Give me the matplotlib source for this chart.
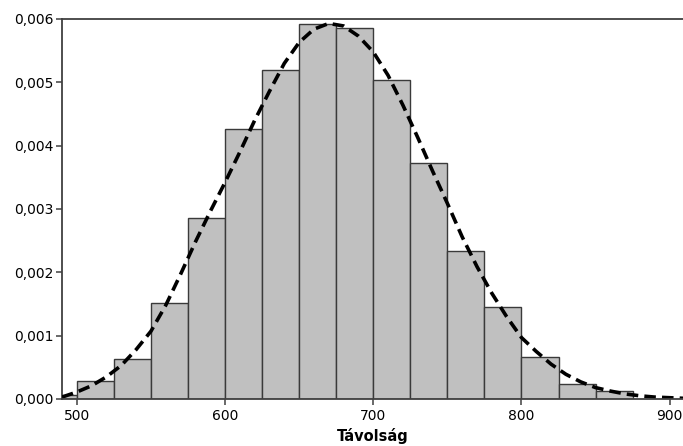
import matplotlib
matplotlib.use("Agg")
import matplotlib.pyplot as plt
from matplotlib.ticker import FuncFormatter

# histogram: bin left edges (width 25) and density heights
bin_left = [475, 500, 525, 550, 575, 600, 625, 650, 675, 700, 725, 750, 775, 800, 825, 850]
density = [0.00007, 0.00029, 0.00063, 0.00151, 0.00285, 0.00427, 0.00519, 0.00592,
           0.00585, 0.00503, 0.00373, 0.00234, 0.00145, 0.00067, 0.00023, 0.00013]
bin_width = 25

# fitted curve
curve_x = [490, 500, 510, 520, 530, 540, 550, 560, 570, 580, 590, 600, 610, 620, 630, 640,
           650, 660, 670, 680, 690, 700, 710, 720, 730, 740, 750, 760, 770, 780, 790, 800,
           810, 820, 830, 840, 850, 860, 870, 880, 890, 900, 910]
curve_y = [0.00003, 0.00011, 0.00021, 0.00035, 0.00053, 0.00078, 0.00107, 0.00148, 0.00197,
           0.00248, 0.00296, 0.00342, 0.00390, 0.00440, 0.00486, 0.00530, 0.00563, 0.00584,
           0.00593, 0.00589, 0.00573, 0.00548, 0.00511, 0.00464, 0.00413, 0.00360, 0.00309,
           0.00256, 0.00209, 0.00167, 0.00130, 0.00097, 0.00075, 0.00055, 0.00039, 0.00027,
           0.00018, 0.000125, 0.00008, 0.00005, 0.00003, 0.00002, 0.00001]

x_ticks = [500, 600, 700, 800, 900]
y_ticks = [0.000, 0.001, 0.002, 0.003, 0.004, 0.005, 0.006]

plt.rcParams['font.family'] = ['DejaVu Sans']

fig = plt.figure(figsize=(6.83, 4.46), dpi=100)
ax = fig.add_axes([0.0908, 0.1054, 0.9092, 0.852])

ax.bar(bin_left, density, width=bin_width, align='edge',
       color='#c0c0c0', edgecolor='#3a3a3a', linewidth=1.0, zorder=2)
ax.plot(curve_x, curve_y, color='black', linewidth=2.6,
        dashes=(3.2, 1.7), zorder=3)

ax.set_xlim(490, 909)
ax.set_ylim(0, 0.006)
ax.set_xticks(x_ticks)
ax.set_yticks(y_ticks)
ax.yaxis.set_major_formatter(FuncFormatter(lambda v, p: f"{v:.3f}".replace('.', ',')))

for side in ['left', 'top', 'bottom']:
  ax.spines[side].set_color('#404040')
  ax.spines[side].set_linewidth(1.3)
ax.spines['right'].set_visible(False)
ax.spines['bottom'].set_zorder(4)

ax.tick_params(axis='both', colors='#404040', labelcolor='black', labelsize=10,
               length=4, width=1.1, direction='out')
ax.tick_params(axis='x', pad=3)
ax.tick_params(axis='y', pad=2)

ax.set_xlabel('Távolság', fontsize=10.5, fontweight='bold', labelpad=4)

plt.savefig('out.png', dpi=100)
